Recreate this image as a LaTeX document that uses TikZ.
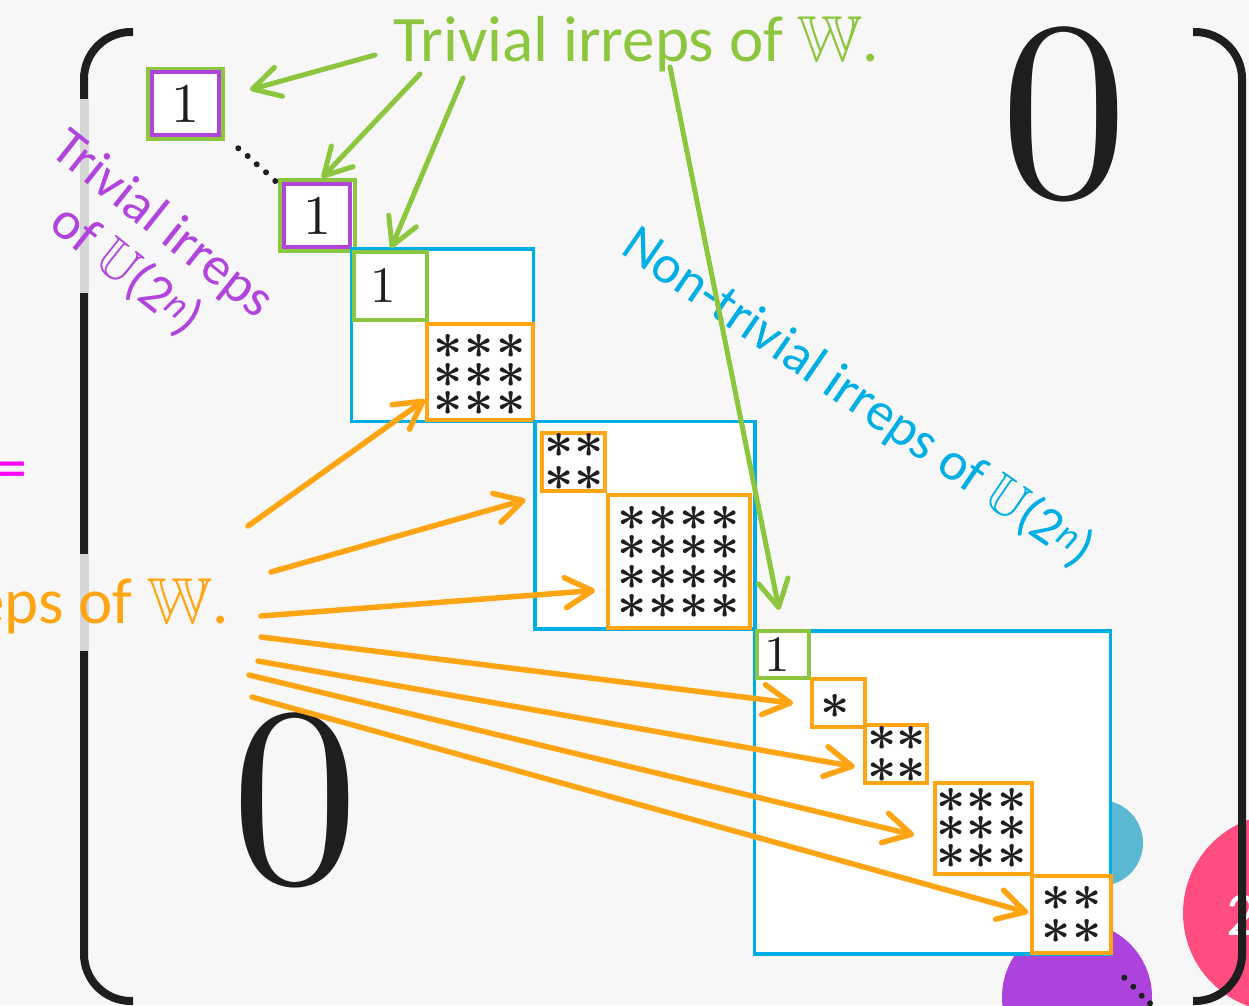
\documentclass[tikz,border=0pt]{standalone}
\usepackage{amssymb}
\usepackage[no-math]{fontspec}
\setmainfont{Carlito}
\newfontfamily\digitfont{lmroman10-regular.otf}
\usetikzlibrary{arrows.meta,calc}

\definecolor{bgc}{HTML}{F7F7F7}
\definecolor{inkc}{HTML}{1E1E1E}
\definecolor{grn}{HTML}{8CC63F}
\definecolor{prp}{HTML}{B044DD}
\definecolor{blu}{HTML}{00AEE6}
\definecolor{org}{HTML}{FFA514}
\definecolor{mag}{HTML}{FF00FF}
\definecolor{tealc}{HTML}{5BB8D2}
\definecolor{pinkc}{HTML}{FF4D80}
\definecolor{violc}{HTML}{AD43DD}
\definecolor{barg}{HTML}{D6D6D6}

% grid of matrix entries: first entry (x,y), steps dx dy, columns, rows
\newcommand\stargrid[6]{%
  \foreach \r in {1,...,#6}{\foreach \c in {1,...,#5}{%
    \node[entry] at ({#1+(\c-1)*#3},{#2+(\r-1)*#4}) {$\ast$};}}}

\begin{document}
\begin{tikzpicture}[x=1pt,y=-1pt,
  bracket/.style={draw=inkc,line width=8pt,rounded corners=47pt},
  cell/.style={fill=white,inner sep=0pt,line width=4pt},
  gcell/.style={cell,draw=grn},
  pcell/.style={cell,draw=prp},
  ocell/.style={cell,draw=org},
  bcell/.style={cell,draw=blu,line width=3.5pt},
  one/.style={font=\digitfont\fontsize{51}{51}\selectfont,text=inkc},
  bigone/.style={font=\digitfont\fontsize{56}{56}\selectfont,text=inkc},
  zero/.style={inner sep=0pt,font=\digitfont\fontsize{255}{255}\selectfont,text=inkc},
  entry/.style={inner sep=0pt,scale=2.05,font=\fontsize{24.88}{25}\selectfont\boldmath,text=inkc},
  label/.style={inner sep=0pt,font=\fontsize{54}{59}\selectfont},
  bigtext/.style={inner sep=0pt,font=\fontsize{65}{65}\selectfont},
  garrow/.style={draw=grn,line width=5pt,line cap=round,
    -{Straight Barb[length=27pt,width=30pt,round]}},
  oarrow/.style={draw=org,line width=5.5pt,line cap=round,
    -{Straight Barb[length=27pt,width=30pt,round]}},
  dot/.style={fill=inkc}]

\useasboundingbox (0,0) rectangle (1249,1005);
\clip (0,0) rectangle (1249,1005);
\fill[bgc] (0,0) rectangle (1249,1005);

% decorative discs
\fill[tealc] (1100,843) circle[radius=43];
\fill[violc] (1077,997) circle[radius=75];
\fill[pinkc] (1282,913) circle[radius=99];
\node[anchor=base west,inner sep=0pt,font=\fontsize{62}{62}\selectfont,text=white] (pg) at (1226,935) {2};

% matrix brackets
\draw[bracket] (133,32) -- (84,32) -- (84,1001) -- (133,1001);
\draw[bracket] (1193,32) -- (1242,32) -- (1242,1001) -- (1193,1001);
\fill[barg] (80,99) rectangle (88.5,293);
\fill[barg] (80,554) rectangle (88.5,651);

% text at the left edge
\node[anchor=base east,inner sep=0pt,font=\fontsize{64}{64}\selectfont,text=mag] (eqs) at (28,489) {=};
\node[bigtext,anchor=base east,text=org] (irr) at (229,623) {eps of \(\mathbb{W}\).};

% zero blocks
\node[zero] (zr1) at (1064,114.5) {0};
\node[zero] (zr2) at (295,800) {0};

% trivial 1x1 blocks
\node[gcell,minimum width=74.5pt,minimum height=70pt] (ga) at (185.25,103.7) {};
\node[pcell,minimum width=66.6pt,minimum height=62.7pt] (pa) at (185.5,103.35) {};
\node[bigone] at (pa) {1};
\node[gcell,minimum width=75.2pt,minimum height=71.5pt] (gb) at (317.4,215.5) {};
\node[pcell,minimum width=66.5pt,minimum height=63pt] (pb) at (317.2,215.5) {};
\node[bigone] at (pb) {1};

% diagonal dots between the trivial blocks
\foreach \p in {(238.3,148.3),(247.7,156),(256.7,164.3),(266,172.3),(275.3,181),
                (1124.3,977.7),(1133.3,986.7),(1141.7,995.7),(1150,1003.3)}
  \fill[dot] \p circle[radius=3];

% first block
\node[bcell,minimum width=181.6pt,minimum height=172.7pt] (bl1) at (442.5,335.35) {};
\node[gcell,minimum width=72.9pt,minimum height=68pt] (g1) at (390.25,286) {};
\node[one] at (383,286) {1};
\node[ocell,minimum width=105.7pt,minimum height=95.9pt] (o1) at (479.85,371.75) {};
\stargrid{448.3}{346.7}{31.2}{28.3}{3}{3}

% second block
\node[bcell,minimum width=220pt,minimum height=207.5pt] (bl2) at (645,525.45) {};
\node[ocell,minimum width=62.7pt,minimum height=58.3pt] (o2s) at (573.35,462.15) {};
\stargrid{559.3}{445}{30}{33.3}{2}{2}
\node[ocell,minimum width=142.3pt,minimum height=132.4pt] (o2b) at (679.15,561.5) {};
\stargrid{631.7}{518.3}{31.1}{29.4}{4}{4}

% third block
\node[bcell,minimum width=355.8pt,minimum height=322.8pt] (bl3) at (932.6,792.4) {};
\node[gcell,minimum width=51.7pt,minimum height=47.5pt] (g3) at (782.85,654.25) {};
\node[one] at (777.5,655) {1};
\node[ocell,minimum width=53.3pt,minimum height=48.3pt] (o31) at (838.65,702.85) {};
\stargrid{835}{706}{0}{0}{1}{1}
\node[ocell,minimum width=62.5pt,minimum height=58.6pt] (o32) at (895.95,754) {};
\stargrid{881.7}{738.3}{29}{32.4}{2}{2}
\node[ocell,minimum width=97.5pt,minimum height=91.2pt] (o33) at (983.25,828.6) {};
\stargrid{950.7}{800}{30.5}{28.3}{3}{3}
\node[ocell,minimum width=79.1pt,minimum height=76.7pt] (o34) at (1071.75,914.65) {};
\stargrid{1056}{898.3}{30.7}{33.4}{2}{2}

% labels
\node[bigtext,anchor=base west,text=grn] (ttl) at (393,61) {Trivial irreps of \(\mathbb{W}\).};
\node[label,rotate=-38.5,align=center,text=prp] (tu) at (144,248)
  {Trivial irreps\\of \(\mathbb{U}\)(2\textsuperscript{\itshape n})};
\node[label,rotate=-34.5,text=blu] (ntu) at (858,398)
  {Non-trivial irreps of \(\mathbb{U}\)(2\textsuperscript{\itshape n})};

% arrows from the labels to the blocks
\coordinate (gs1) at (375,55);
\coordinate (gs2) at (420,74);
\coordinate (gs3) at (463,78);
\coordinate (gs4) at (670,67);
\draw[garrow,shorten >=26.5pt] (gs1) -- (ga.10);
\draw[garrow] (gs2) -- (gb.83);
\draw[garrow,shorten >=2pt] (gs3) -- (g1.north);
\draw[garrow,shorten >=19pt] (gs4) -- (g3.north);

\coordinate (os1) at (248,526);
\coordinate (os2) at (271,572);
\coordinate (os3) at (261,616);
\coordinate (os4) at (261,637);
\coordinate (os5) at (258,661);
\coordinate (os6) at (249,675);
\coordinate (os7) at (252,697);
\draw[oarrow] (os1) -- (o1.207);
\draw[oarrow,shorten >=8pt] (os2) -- (bl2.166);
\draw[oarrow,shorten >=11pt] (os3) -- (o2b.201);
\draw[oarrow,shorten >=17pt] (os4) -- (o31.185);
\draw[oarrow,shorten >=8pt] (os5) -- (o32.203);
\draw[oarrow,shorten >=19pt] (os6) -- (o33.192);
\draw[oarrow,shorten >=2pt] (os7) -- (o34.178);
\end{tikzpicture}
\end{document}
